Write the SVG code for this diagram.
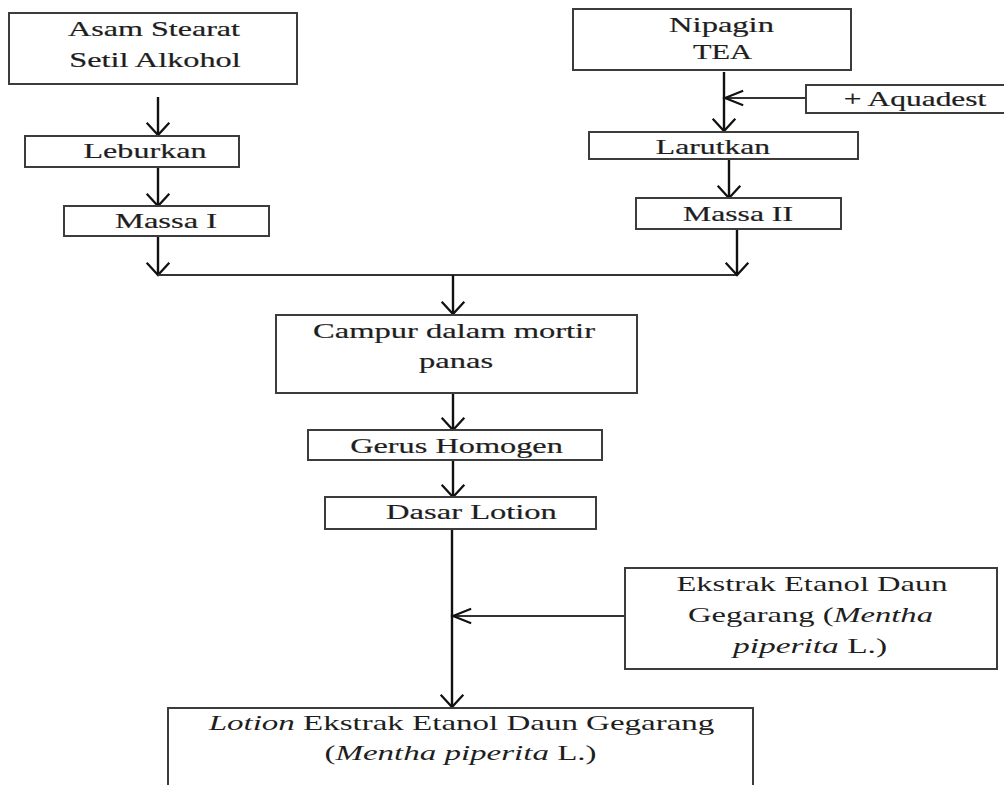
<svg xmlns="http://www.w3.org/2000/svg" width="1004" height="785" viewBox="0 0 1004 785">
<style>
.box{fill:#fff;stroke:#3c3c3c;stroke-width:2}
.t{font-family:"Liberation Serif","Times New Roman",serif;font-size:22px;fill:#1e1e1e;stroke:#1e1e1e;stroke-width:0.2;text-anchor:middle}
.tl{stroke:none}
.i{font-style:italic}
.ln{fill:none;stroke:#111;stroke-width:2.4}
.hl{fill:none;stroke:#333;stroke-width:2}
</style>
<defs>
<marker id="arrV" markerUnits="userSpaceOnUse" markerWidth="16" markerHeight="28" refX="13" refY="12" orient="auto" viewBox="-2 -2 17 28" overflow="visible">
<path d="M0,0 L13,12 L0,24" fill="none" stroke="#111" stroke-width="2.4"/>
</marker>
<marker id="arrH" markerUnits="userSpaceOnUse" markerWidth="22" markerHeight="20" refX="19" refY="7.5" orient="auto" viewBox="-2 -2 23 19" overflow="visible">
<path d="M0,0 L19,7.5 L0,15" fill="none" stroke="#111" stroke-width="2.2"/>
</marker>
</defs>
<rect width="1004" height="785" fill="#fff"/>
<g id="connectors">
<path class="ln" d="M158,97 V135" marker-end="url(#arrV)"/>
<path class="ln" d="M158,167 V206" marker-end="url(#arrV)"/>
<path class="ln" d="M158,236 V275" marker-end="url(#arrV)"/>
<path class="hl" d="M158,275 H737"/>
<path class="ln" d="M737,229 V275" marker-end="url(#arrV)"/>
<path class="ln" d="M453,275 V314" marker-end="url(#arrV)"/>
<path class="ln" d="M724,72 V131" marker-end="url(#arrV)"/>
<path class="hl" d="M806,98 H725" marker-end="url(#arrH)"/>
<path class="ln" d="M729,159 V198" marker-end="url(#arrV)"/>
<path class="ln" d="M453,393 V430" marker-end="url(#arrV)"/>
<path class="ln" d="M453,460 V497" marker-end="url(#arrV)"/>
<path class="ln" d="M452,529 V707" marker-end="url(#arrV)"/>
<path class="hl" d="M625,616 H453" marker-end="url(#arrH)"/>
</g>
<g id="asam">
<rect class="box" x="9" y="13" width="288" height="71"/>
<text class="t" transform="matrix(1.46,0,0,1,154,36)">Asam Stearat</text>
<text class="t" transform="matrix(1.47,0,0,1,155,67)">Setil Alkohol</text>
</g>
<g id="leburkan">
<rect class="box" x="25" y="136" width="214" height="31"/>
<text class="t" transform="matrix(1.46,0,0,1,145,158)">Leburkan</text>
</g>
<g id="massa1">
<rect class="box" x="64" y="206" width="205" height="30"/>
<text class="t" transform="matrix(1.48,0,0,1,166,228)">Massa I</text>
</g>
<g id="nipagin">
<rect class="box" x="573" y="9" width="278" height="61"/>
<text class="t" transform="matrix(1.48,0,0,1,721.5,32)">Nipagin</text>
<text class="t" transform="matrix(1.38,0,0,1,722.5,59)">TEA</text>
</g>
<g id="aquadest">
<rect class="box" x="806" y="85" width="210" height="28"/>
<text class="t" transform="matrix(1.43,0,0,1,915,106)">+ Aquadest</text>
</g>
<g id="larutkan">
<rect class="box" x="589" y="132" width="269" height="27"/>
<text class="t" transform="matrix(1.44,0,0,1,713,154)">Larutkan</text>
</g>
<g id="massa2">
<rect class="box" x="636" y="198" width="205" height="31"/>
<text class="t" transform="matrix(1.44,0,0,1,738,221)">Massa II</text>
</g>
<g id="campur">
<rect class="box" x="276" y="315" width="361" height="78"/>
<text class="t" transform="matrix(1.48,0,0,1,454,338)">Campur dalam mortir</text>
<text class="t" transform="matrix(1.48,0,0,1,456,368)">panas</text>
</g>
<g id="gerus">
<rect class="box" x="308" y="430" width="294" height="30"/>
<text class="t" transform="matrix(1.47,0,0,1,456.5,453)">Gerus Homogen</text>
</g>
<g id="dasar">
<rect class="box" x="325" y="497" width="271" height="32"/>
<text class="t" transform="matrix(1.48,0,0,1,471.5,519)">Dasar Lotion</text>
</g>
<g id="ekstrak">
<rect class="box" x="625" y="568" width="372" height="101"/>
<text class="t tl" transform="matrix(1.48,0,0,1,812,591)">Ekstrak Etanol Daun</text>
<text class="t tl" transform="matrix(1.48,0,0,1,810.5,622)">Gegarang (<tspan class="i">Mentha</tspan></text>
<text class="t tl" transform="matrix(1.52,0,0,1,810,653)"><tspan class="i">piperita</tspan> L.)</text>
</g>
<g id="lotion">
<rect class="box" x="168" y="708" width="585" height="100"/>
<text class="t tl" transform="matrix(1.5,0,0,1,461.5,730)"><tspan class="i">Lotion</tspan> Ekstrak Etanol Daun Gegarang</text>
<text class="t tl" transform="matrix(1.5,0,0,1,460.5,760)">(<tspan class="i">Mentha piperita</tspan> L.)</text>
</g>
</svg>
